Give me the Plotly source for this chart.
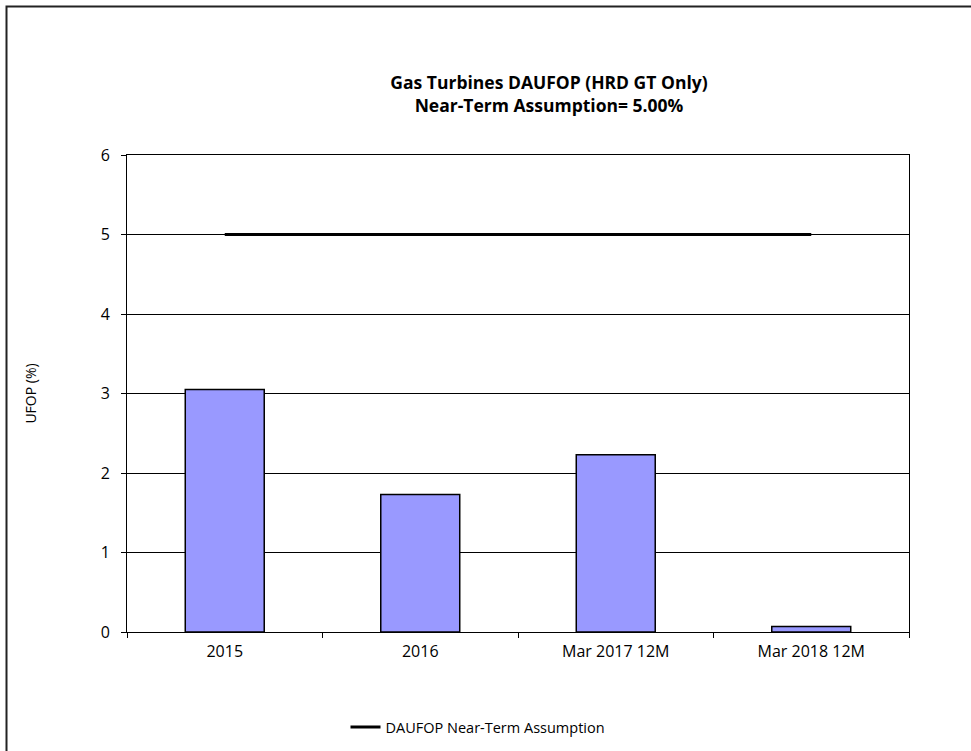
import plotly.graph_objects as go

categories = ["2015", "2016", "Mar 2017 12M", "Mar 2018 12M"]
ufop_values = [3.05, 1.73, 2.23, 0.07]
assumption_values = [5.0, 5.0, 5.0, 5.0]
y_ticks = [0, 1, 2, 3, 4, 5, 6]

font_family = "Open Sans, Liberation Sans, DejaVu Sans, sans-serif"

fig = go.Figure()
fig.add_trace(go.Bar(
    x=categories, y=ufop_values,
    marker=dict(color="#9999FF", line=dict(color="black", width=1.5)),
    showlegend=False, name="UFOP",
))
fig.add_trace(go.Scatter(
    x=categories, y=assumption_values, mode="lines",
    line=dict(color="black", width=3),
    name="DAUFOP Near-Term Assumption",
))

fig.update_layout(
    width=971, height=751,
    margin=dict(l=127, r=62, t=155, b=119, autoexpand=False),
    paper_bgcolor="white", plot_bgcolor="white",
    bargap=0.596,
    font=dict(family=font_family, size=13, color="black"),
    title=dict(
        text="<b>Gas Turbines DAUFOP (HRD GT Only)<br>Near-Term Assumption= 5.00%</b>",
        x=549/971, xanchor="center", y=1-89/751, yanchor="middle",
        font=dict(size=17.5, family=font_family, color="black"),
    ),
    legend=dict(
        orientation="h", xref="container", yref="container",
        x=478/971, xanchor="center", y=1-727/751, yanchor="middle",
        font=dict(size=14.5), bgcolor="rgba(0,0,0,0)",
    ),
    shapes=[dict(
        type="rect", xref="paper", yref="paper",
        x0=(6.5-127)/782, x1=(1000-127)/782,
        y0=(632-800)/477, y1=(632-6.5)/477,
        line=dict(color="#222222", width=2), fillcolor="rgba(0,0,0,0)", layer="below",
    )],
)
fig.update_xaxes(
    type="category", showline=True, linecolor="black", linewidth=1, mirror=True,
    ticks="outside", tickson="boundaries", ticklen=5, tickcolor="black",
    showgrid=False, tickfont=dict(size=16), ticklabelstandoff=5,
)
fig.update_yaxes(
    range=[0, 6], tickvals=y_ticks, showline=True, linecolor="black", linewidth=1, mirror=True,
    ticks="outside", ticklen=5, tickcolor="black",
    showgrid=True, gridcolor="black", gridwidth=1, zeroline=False,
    title=dict(text="UFOP (%)", font=dict(size=14), standoff=60),
    tickfont=dict(size=16), ticklabelstandoff=8,
)

fig.write_html("out.html", config={"displayModeBar": False},
               post_script="document.body.style.margin='0';")
